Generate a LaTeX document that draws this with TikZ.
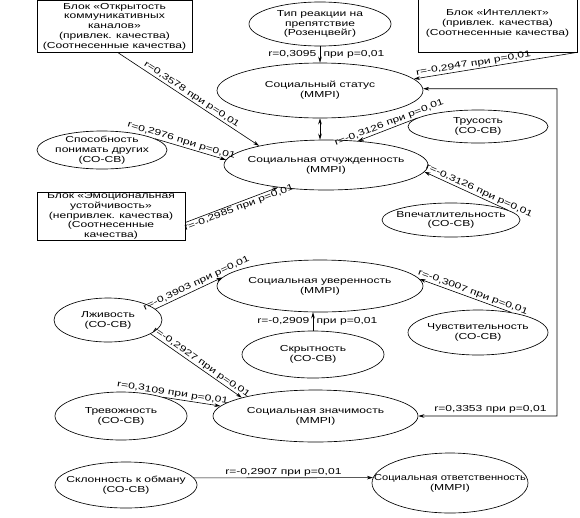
\documentclass[tikz,border=0pt]{standalone}
\usepackage{fontspec}
\setmainfont{Liberation Sans}[FakeStretch=1.39]
\usetikzlibrary{shapes.geometric,arrows.meta}
\tikzset{
  ell/.style={draw, ellipse, line width=0.65pt, inner xsep=-40pt, inner ysep=-10pt, align=center},
  blk/.style={draw, rectangle, line width=0.65pt, inner sep=0pt, align=center},
  arr/.style={line width=0.6pt, -{Stealth[length=6pt,width=3.6pt]}},
  arrb/.style={line width=0.6pt, {Stealth[length=6pt,width=3.6pt]}-{Stealth[length=6pt,width=3.6pt]}},
  lbl/.style={sloped, above, inner sep=1.2pt},
  lblb/.style={sloped, below, inner sep=1.2pt},
}
\begin{document}
\begin{tikzpicture}[x=1pt,y=-1pt,font=\fontsize{8.7}{9.8}\selectfont]
\useasboundingbox (0,0) rectangle (580,517);
\clip (0,0) rectangle (580,517);
% blocks
\node[blk, minimum width=155, minimum height=52] (A) at (114.5,26.5) {Блок «Открытость\\коммуникативных\\каналов»\\(привлек. качества)\\(Соотнесенные качества)};
\node[blk, minimum width=159, minimum height=57] (I) at (497.5,23.5) {Блок «Интеллект»\\(привлек. качества)\\(Соотнесенные качества)};
\node[blk, minimum width=148, minimum height=48] (G) at (111,216) {Блок «Эмоциональная\\устойчивость»\\(непривлек. качества)\\(Соотнесенные\\качества)};
% ellipses
\node[ell, minimum width=142, minimum height=44] (B) at (320,24) {Тип реакции на\\препятствие\\(Розенцвейг)};
\node[ell, minimum width=206, minimum height=55] (C) at (320,90.5) {Социальный статус\\(MMPI)};
\node[ell, minimum width=140, minimum height=33] (D) at (478,126.5) {Трусость\\(СО-СВ)};
\node[ell, minimum width=130, minimum height=38] (E) at (102,150) {Способность\\понимать других\\(СО-СВ)};
\node[ell, minimum width=204, minimum height=50] (F) at (326,165) {Социальная отчужденность\\(MMPI)};
\node[ell, minimum width=138, minimum height=34] (H) at (451,220) {Впечатлительность\\(СО-СВ)};
\node[ell, minimum width=206, minimum height=52] (J) at (320,286) {Социальная уверенность\\(MMPI)};
\node[ell, minimum width=108, minimum height=44] (K) at (108,320) {Лживость\\(СО-СВ)};
\node[ell, minimum width=140, minimum height=45] (L) at (478,332.5) {Чувствительность\\(СО-СВ)};
\node[ell, minimum width=142, minimum height=47] (M) at (313,354.5) {Скрытность\\(СО-СВ)};
\node[ell, minimum width=132, minimum height=48] (N) at (121,416) {Тревожность\\(СО-СВ)};
\node[ell, minimum width=205, minimum height=52] (O) at (315.5,416) {Социальная значимость\\(MMPI)};
\node[ell, minimum width=142, minimum height=46] (P) at (126,485) {Склонность к обману\\(СО-СВ)};
\node[ell, minimum width=156, minimum height=60] (Q) at (450,483) {\scalebox{0.92}[1]{Социальная ответственность}\\(MMPI)};
% connectors
\draw[arr] (A.-82) -- node[lbl,pos=.5]{r=0,3578 при p=0,01} (F.164);
\draw[arr] (E.12) -- node[lbl,pos=.35]{r=0,2976 при p=0,01} (F.177);
\draw[arr] (G.-5) -- node[lblb,pos=.56]{r=-0,2985 при p=0,01} (F.205);
\draw[arr] (D.172) -- node[lbl,pos=.44]{r=-0,3126 при p=0,01} (F.37);
\draw[arr] (H.10) -- node[lbl,pos=.37]{r=-0,3126 при p=0,01} (F.-4);
\draw[arr] (B.south) -- node[left]{r=0,3095} node[right]{при p=0,01} (C.north);
\draw[arrb] (C.south) -- (C.south |- F.north);
\draw[arr] (I.south east) -- node[lbl,pos=.63]{r=-0,2947 при p=0,01} (C.7);
\draw[arr] (K.13) -- node[lbl,pos=.65]{r=-0,3903 при p=0,01} (J.175);
\draw[arr] (L.31) -- node[lbl,pos=.44]{r=-0,3007 при p=0,01} (J.4);
\draw[arr] (M.north) -- node[left]{r=-0,2909} node[right]{при p=0,01} (M.north |- J.south);
\draw[arr] (K.-18) -- node[lbl,pos=.52]{r=-0,2927 при p=0,01} (O.166);
\draw[arr] (N.24) -- node[lbl,pos=.15]{r=0,3109 при p=0,01} (O.174);
\draw[arr] (P.6) -- node[lbl,pos=.5]{r=-0,2907 при p=0,01} (Q.176);
\coordinate (c1) at (557,88.7);
\coordinate (c2) at (557,416);
\draw[arrb] (C.1) -- (c1) -- (c2) -- node[above,pos=.48,inner sep=2pt]{r=0,3353 при p=0,01} (O.east);
\end{tikzpicture}
\end{document}
